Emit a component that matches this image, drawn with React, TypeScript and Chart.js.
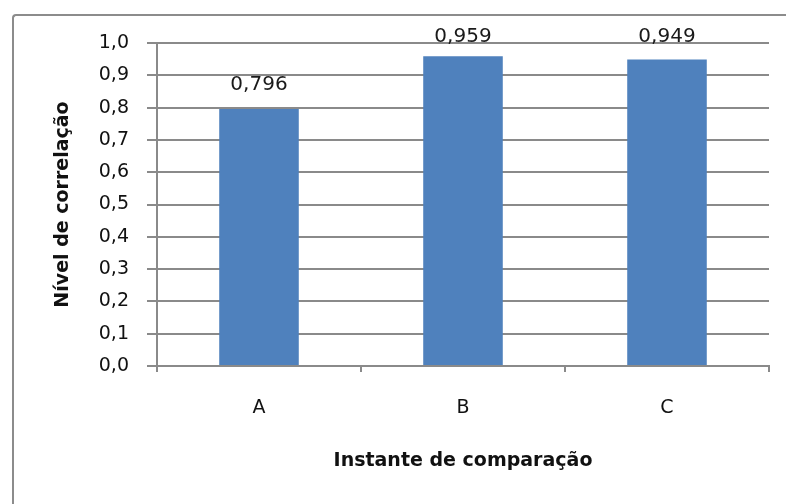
import React, { useEffect, useRef } from "react";
import { Chart, registerables } from "chart.js";

Chart.register(...registerables);

const categories = ["A", "B", "C"];
const values = [0.796, 0.959, 0.949];
const valueLabels = ["0,796", "0,959", "0,949"];
const yTitle = "Nível de correlação";
const xTitle = "Instante de comparação";

const FONT = "'DejaVu Sans', Verdana, sans-serif";
const GRID = "#8a8a8a";

const labelPlugin = {
  id: "valueLabels",
  afterDatasetsDraw(chart: any) {
    const ctx = chart.ctx;
    const meta = chart.getDatasetMeta(0);
    const top = chart.chartArea.top;
    ctx.save();
    ctx.font = `20px ${FONT}`;
    ctx.fillStyle = "#1a1a1a";
    ctx.textAlign = "center";
    ctx.textBaseline = "middle";
    meta.data.forEach((bar: any, i: number) => {
      ctx.fillText(valueLabels[i], bar.x, Math.max(bar.y - 24, top - 6));
    });
    ctx.restore();
  },
};

export default function App() {
  const ref = useRef<HTMLCanvasElement>(null);
  useEffect(() => {
    document.body.style.margin = "0";
    const chart = new Chart(ref.current!, {
      type: "bar",
      data: {
        labels: categories,
        datasets: [
          {
            data: values,
            backgroundColor: "#4F81BD",
            borderWidth: 0,
            barPercentage: 0.78,
            categoryPercentage: 0.5,
          },
        ],
      },
      options: {
        animation: false,
        responsive: false,
        maintainAspectRatio: false,
        events: [],
        layout: { padding: { top: 43, right: 17, bottom: 0, left: 0 } },
        plugins: {
          legend: { display: false },
          tooltip: { enabled: false },
        },
        scales: {
          x: {
            offset: true,
            grid: {
              offset: true,
              drawOnChartArea: false,
              drawTicks: true,
              tickLength: 6,
              color: GRID,
              lineWidth: 2,
            },
            border: { color: GRID, width: 2 },
            ticks: {
              color: "#111",
              font: { family: FONT, size: 19 },
              padding: 25,
            },
            title: {
              display: true,
              text: xTitle,
              color: "#111",
              font: { family: FONT, size: 19, weight: "bold" },
              padding: { top: 0, bottom: 32 },
            },
            afterFit(scale: any) {
              scale.height = 138;
            },
          },
          y: {
            min: 0,
            max: 1,
            ticks: {
              stepSize: 0.1,
              color: "#111",
              font: { family: FONT, size: 19 },
              padding: 18,
              callback: (v: any) => Number(v).toFixed(1).replace(".", ","),
            },
            grid: {
              color: GRID,
              lineWidth: 2,
              tickLength: 10,
            },
            border: { color: GRID, width: 2 },
            title: {
              display: true,
              text: yTitle,
              color: "#111",
              font: { family: FONT, size: 19, weight: "bold" },
              padding: { top: 52, bottom: 0 },
            },
            afterFit(scale: any) {
              scale.width = 157;
            },
          },
        },
      },
      plugins: [labelPlugin],
    });
    return () => chart.destroy();
  }, []);
  return (
    <div style={{ position: "relative", width: 786, height: 504, overflow: "hidden", background: "#fff" }}>
      <div
        style={{
          position: "absolute",
          left: 12,
          top: 14,
          width: 800,
          height: 520,
          borderLeft: "2px solid #8c8c8c",
          borderTop: "2px solid #8c8c8c",
          borderTopLeftRadius: 4,
          boxSizing: "border-box",
        }}
      />
      <canvas ref={ref} width={786} height={504} style={{ display: "block", position: "relative" }} />
    </div>
  );
}
